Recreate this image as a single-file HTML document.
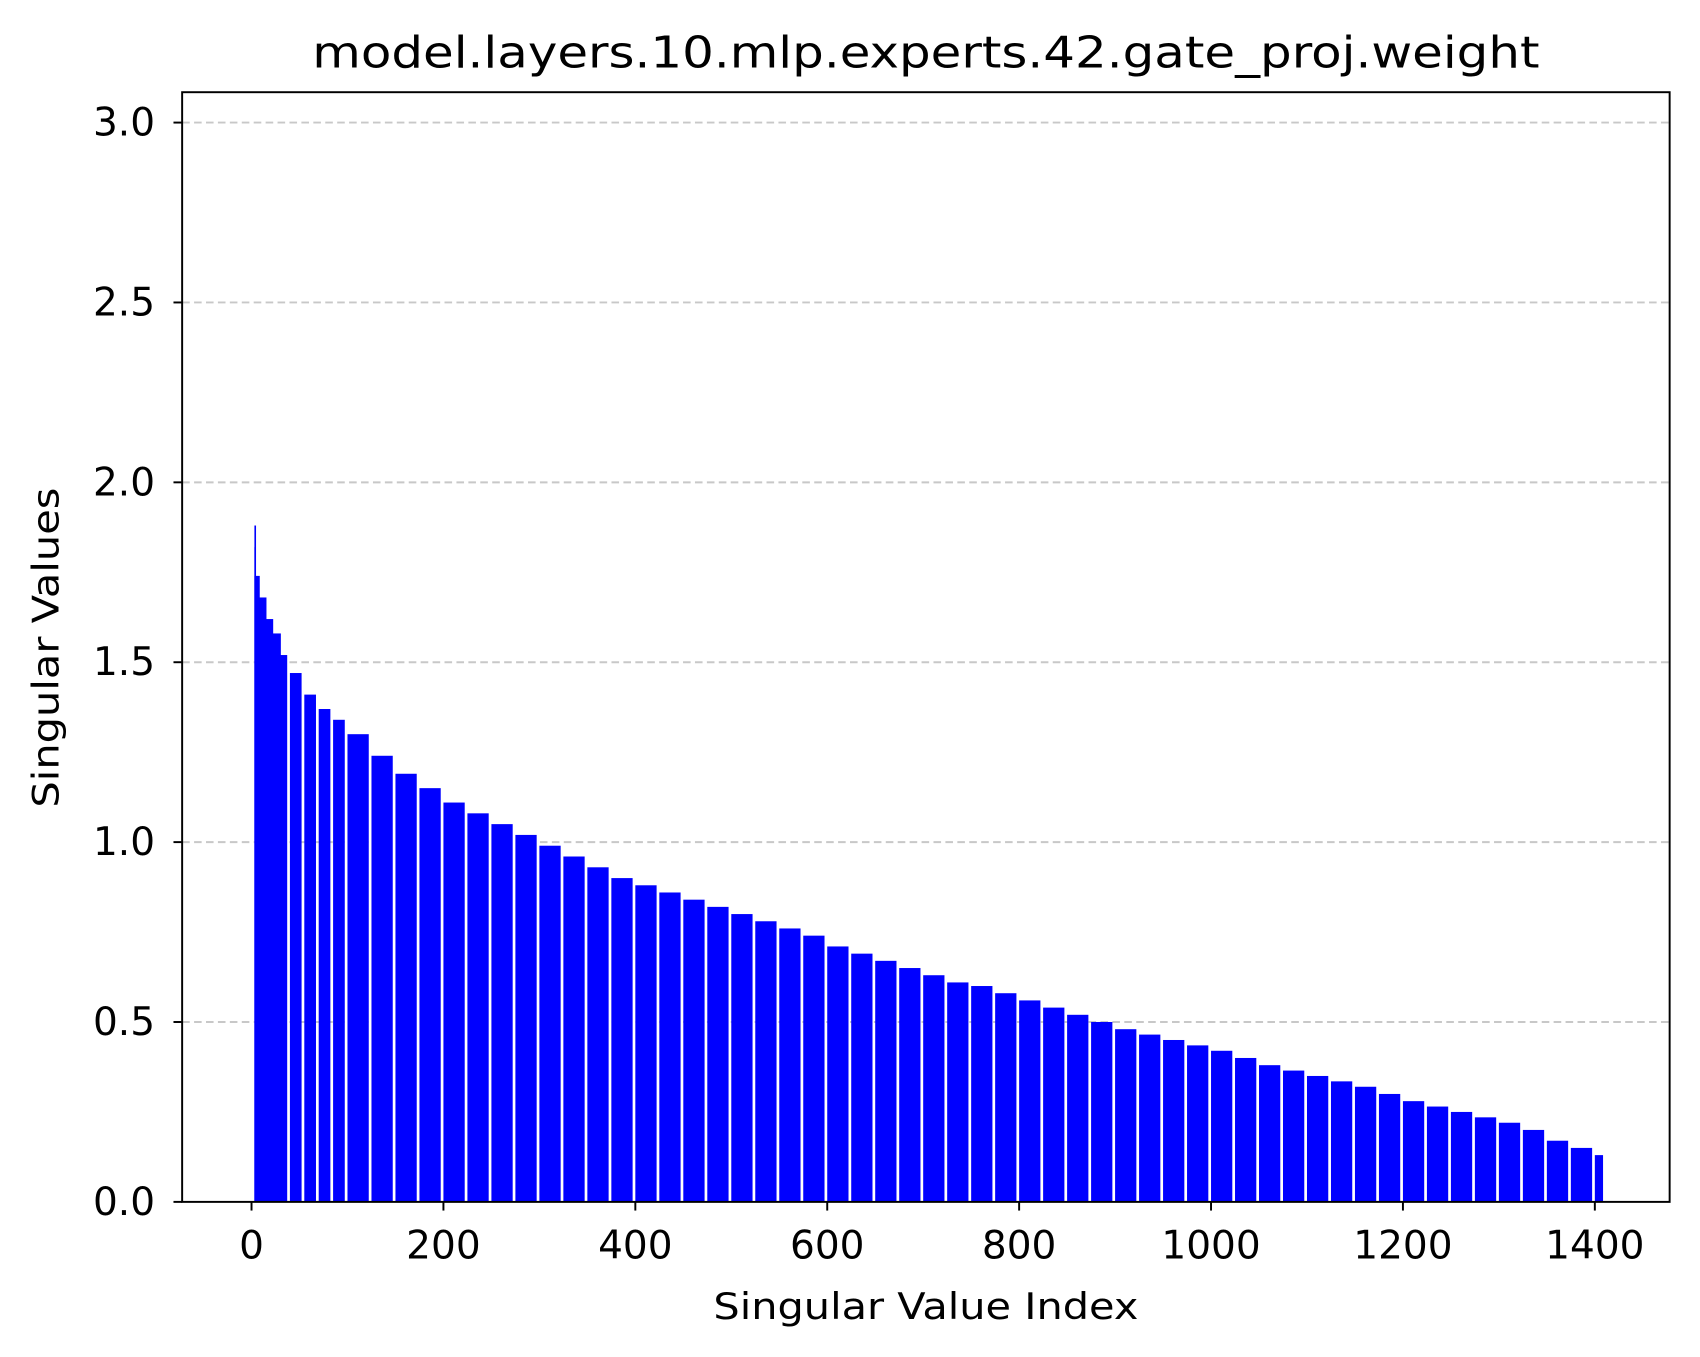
<!DOCTYPE html>
<html><head><meta charset="utf-8">
<style>
html,body{margin:0;padding:0;background:#fff;}
svg{display:block;font-family:"DejaVu Sans","Liberation Sans",sans-serif;}
</style></head>
<body>
<svg id="chart" width="1700" height="1357" viewBox="0 0 1568 1251" preserveAspectRatio="none">
  <rect x="0" y="0" width="1568" height="1251" fill="#fff"/>
  <g id="grid"></g>
  <g id="bars"></g>
  <rect x="168" y="85" width="1372" height="1023" fill="none" stroke="#000" stroke-width="1.8"/>
  <g id="xticks"></g>
  <g id="yticks"></g>
  <text x="854" y="62" font-size="40" text-anchor="middle" textLength="1132" lengthAdjust="spacingAndGlyphs">model.layers.10.mlp.experts.42.gate_proj.weight</text>
  <text x="854" y="1216" font-size="34" text-anchor="middle" textLength="392" lengthAdjust="spacingAndGlyphs">Singular Value Index</text>
  <text x="54" y="597" font-size="34" text-anchor="middle" textLength="295" lengthAdjust="spacingAndGlyphs" transform="rotate(-90 54 597)">Singular Values</text>
</svg>
<script>
const binStarts = [0,3,8,15,22,30,40,55,70,85,100,125,150,175,200,225,250,275,300,325,350,375,400,425,450,475,500,525,550,575,600,625,650,675,700,725,750,775,800,825,850,875,900,925,950,975,1000,1025,1050,1075,1100,1125,1150,1175,1200,1225,1250,1275,1300,1325,1350,1375,1400];
const binValues = [1.82,1.74,1.68,1.62,1.58,1.52,1.47,1.41,1.37,1.34,1.30,1.24,1.19,1.15,1.11,1.08,1.05,1.02,0.99,0.96,0.93,0.90,0.88,0.86,0.84,0.82,0.80,0.78,0.76,0.74,0.71,0.69,0.67,0.65,0.63,0.61,0.60,0.58,0.56,0.54,0.52,0.50,0.48,0.465,0.45,0.435,0.42,0.40,0.38,0.365,0.35,0.335,0.32,0.30,0.28,0.265,0.25,0.235,0.22,0.20,0.17,0.15,0.13];
const lastIndex = 1408;
const peakValue = 1.88;
const xTicks = [0,200,400,600,800,1000,1200,1400];
const yTicks = [0.0,0.5,1.0,1.5,2.0,2.5,3.0];

const NS = "http://www.w3.org/2000/svg";
const x = v => 232 + v * (1471 - 232) / 1400;
const y = v => 1108 - v * (1108 - 113) / 3.0;
function mk(tag, attrs, parent){const e=document.createElementNS(NS,tag);for(const k in attrs)e.setAttribute(k,attrs[k]);parent.appendChild(e);return e;}

const grid = document.getElementById('grid');
const yg = document.getElementById('yticks');
yTicks.forEach(t=>{
  if(t>0){const g=mk('line',{x1:168,x2:1540,y1:y(t),y2:y(t),stroke:'#c8c8c8','stroke-width':1.8,'stroke-dasharray':'7,4'},grid);
  
  }
  const tk=mk('line',{x1:160,x2:168,y1:y(t),y2:y(t),stroke:'#000','stroke-width':1.8},yg);
  
  
  const tx=mk('text',{x:143,y:y(t)+12,'font-size':36,'text-anchor':'end'},yg);
  tx.textContent=t.toFixed(1);
  
  
});
const xg = document.getElementById('xticks');
xTicks.forEach(t=>{
  const tk=mk('line',{x1:x(t),x2:x(t),y1:1108,y2:1116,stroke:'#000','stroke-width':1.8},xg);
  
  
  const tx=mk('text',{x:x(t),y:1160,'font-size':36,'text-anchor':'middle'},xg);
  tx.textContent=t;
  
  
});
const bars = document.getElementById('bars');
const pk=mk('rect',{x:x(3),y:y(peakValue),width:1.5,height:y(0)-y(peakValue),fill:'#0000ff'},bars);


binStarts.forEach((s,i)=>{
  const e = i+1<binStarts.length ? binStarts[i+1] : lastIndex;
  const x0=x(Math.max(s,3)), x1=x(e)-(e-s>=10?2.5:-0.5);
  const r=mk('rect',{x:x0,y:y(binValues[i]),width:Math.max(1,x1-x0),height:y(0)-y(binValues[i]),fill:'#0000ff'},bars);
  
  
});
</script>
</body></html>
